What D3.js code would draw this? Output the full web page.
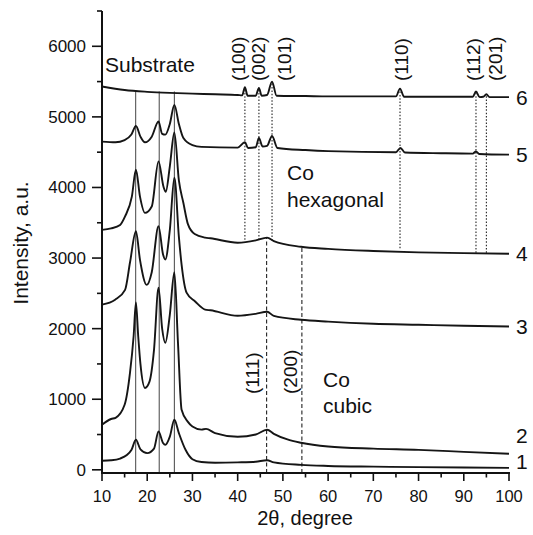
<!DOCTYPE html>
<html>
<head>
<meta charset="utf-8">
<script src="https://cdn.jsdelivr.net/npm/d3@7"></script>
<style>
  body { margin: 0; background: #fff; }
  svg text { font-family: "Liberation Sans", Arial, Helvetica, sans-serif; fill: #111; }
</style>
</head>
<body>
<svg id="chart" width="533" height="535"></svg>
<script>
// XRD patterns, [2theta, intensity]
var curve1 = [[10,128],[12,135],[14,160],[15.5,210],[16.5,280],[17.5,425],[18.5,290],[20,236],[21.5,300],[22.5,543],[23.5,380],[24,354],[25,470],[26,709],[27,520],[28.5,280],[30,150],[32,110],[35,100],[40,105],[44,115],[46.5,135],[48,105],[54,70],[60,55],[70,45],[80,38],[90,32],[100,28]];
var curve2 = [[10,638],[12,720],[13,737],[15,921],[16.2,1380],[17,1900],[17.5,2370],[18,1900],[18.5,1500],[19.5,1160],[20.5,1250],[21.5,1700],[22.5,2580],[23.3,2000],[24,1800],[25,2200],[26,2800],[26.8,1800],[27.6,850],[29,680],[30,614],[32,570],[33,580],[35,520],[40,468],[44,500],[46.5,567],[48,510],[51,430],[54,383],[60,330],[70,300],[80,283],[90,255],[100,227]];
var curve3 = [[10,2340],[12.9,2410],[15.1,2550],[16.2,2940],[17.5,3380],[18.4,2975],[19.9,2620],[21,2800],[22.5,3450],[23.5,3050],[24,2980],[25,3400],[26,4140],[27,3300],[27.6,2906],[28.7,2510],[30.6,2385],[32.8,2270],[34,2260],[40,2183],[44,2210],[46.5,2240],[48,2180],[54,2126],[60,2100],[70,2070],[80,2055],[90,2040],[100,2030]];
var curve4 = [[10,3400],[12,3420],[14,3470],[15.1,3590],[16.6,3870],[17.5,4250],[18.4,3870],[19.5,3640],[21,3730],[22.5,4370],[23.6,4010],[24.1,3940],[25,4300],[26,4780],[27,4100],[28,3780],[29,3480],[30.5,3340],[32.8,3290],[34,3280],[40,3217],[44,3250],[46.5,3290],[48,3240],[54,3160],[60,3130],[70,3100],[80,3080],[90,3070],[100,3060]];
var curve5 = [[10,4650],[13,4640],[15,4670],[16.5,4750],[17.5,4870],[18.5,4720],[19.5,4640],[21,4720],[22.5,4935],[23.3,4760],[24,4748],[25,4900],[26,5170],[27,4900],[28,4700],[30,4600],[32,4575],[40,4565],[41.6,4640],[42.3,4560],[44,4570],[44.7,4700],[45.5,4580],[46.5,4590],[47.6,4730],[48.8,4560],[55,4530],[60,4515],[75,4500],[76,4560],[77,4495],[85,4485],[92,4480],[92.7,4510],[93.4,4475],[100,4465]];
var curve6 = [[10,5430],[15,5380],[20,5355],[25,5340],[30,5330],[35,5320],[40,5310],[41,5305],[41.6,5420],[42.2,5300],[44,5300],[44.7,5410],[45.3,5300],[46.5,5310],[47.6,5500],[48.6,5300],[55,5295],[60,5290],[70,5290],[75,5290],[75.9,5400],[76.8,5285],[85,5285],[92,5285],[92.7,5360],[93.5,5280],[94.3,5285],[95,5320],[95.7,5280],[100,5280]];
var curves = [curve1, curve2, curve3, curve4, curve5, curve6];
var curveNames = ["1", "2", "3", "4", "5", "6"];

var substratePeaks = [17.45, 22.65, 26.0];
var cubicPeaks = [46.4, 54.2];
var cubicLabels = ["(111)", "(200)"];
var hexPeaks = [41.6, 44.7, 47.6, 75.9, 92.7, 95.0];
var hexLabels = ["(100)", "(002)", "(101)", "(110)", "(112)", "(201)"];

var xTicks = [10, 20, 30, 40, 50, 60, 70, 80, 90, 100];
var yTicks = [0, 1000, 2000, 3000, 4000, 5000, 6000];

var svg = d3.select("#chart");
var x = d3.scaleLinear().domain([10, 100]).range([102, 509]);
var y = d3.scaleLinear().domain([-45, 6500]).range([473, 11]);

// reference lines first so the curves sit on top
var g = svg.append("g");
substratePeaks.forEach(function(p) {
  g.append("line").attr("x1", x(p)).attr("x2", x(p))
    .attr("y1", y(-45)).attr("y2", y(5360))
    .attr("stroke", "#444").attr("stroke-width", 1);
});
var cubicTop = [3290, 3165];
cubicPeaks.forEach(function(p, i) {
  g.append("line").attr("x1", x(p)).attr("x2", x(p))
    .attr("y1", y(-45)).attr("y2", y(cubicTop[i]))
    .attr("stroke", "#222").attr("stroke-width", 1.1)
    .attr("stroke-dasharray", "4,2.5");
});
var hexBottom = [3260, 3260, 3250, 3140, 3075, 3075];
var hexTop = [5420, 5410, 5480, 5395, 5355, 5320];
hexPeaks.forEach(function(p, i) {
  g.append("line").attr("x1", x(p)).attr("x2", x(p))
    .attr("y1", y(hexBottom[i])).attr("y2", y(hexTop[i]))
    .attr("stroke", "#222").attr("stroke-width", 1.1)
    .attr("stroke-dasharray", "1.5,1.8");
});

// patterns
var line = d3.line()
  .x(function(d) { return x(d[0]); })
  .y(function(d) { return y(d[1]); })
  .curve(d3.curveMonotoneX);
curves.forEach(function(c) {
  svg.append("path").datum(c)
    .attr("d", line)
    .attr("fill", "none")
    .attr("stroke", "#151515")
    .attr("stroke-width", 1.9)
    .attr("stroke-linejoin", "round");
});

// axes
var xAxis = svg.append("g").attr("transform", "translate(0," + y(-45) + ")");
xAxis.append("line").attr("x1", x(10) - 1).attr("x2", x(100) + 1)
  .attr("stroke", "#111").attr("stroke-width", 2);
d3.range(10, 101, 5).forEach(function(v) {
  var major = v % 10 === 0;
  xAxis.append("line").attr("x1", x(v)).attr("x2", x(v))
    .attr("y1", 0).attr("y2", major ? 8 : 4.5)
    .attr("stroke", "#111").attr("stroke-width", 1.6);
});
xAxis.selectAll("text.tick").data(xTicks).enter().append("text")
  .attr("x", function(d) { return x(d); })
  .attr("y", 29)
  .attr("text-anchor", "middle")
  .attr("font-size", 16.5)
  .text(function(d) { return d; });

var yAxis = svg.append("g").attr("transform", "translate(" + x(10) + ",0)");
yAxis.append("line").attr("y1", y(6500)).attr("y2", y(-45) + 1)
  .attr("stroke", "#111").attr("stroke-width", 2);
d3.range(0, 6501, 500).forEach(function(v) {
  var major = v % 1000 === 0;
  yAxis.append("line").attr("x1", 0).attr("x2", major ? -10 : -5)
    .attr("y1", y(v)).attr("y2", y(v))
    .attr("stroke", "#111").attr("stroke-width", 1.6);
});
yAxis.selectAll("text.tick").data(yTicks).enter().append("text")
  .attr("x", -16)
  .attr("y", function(d) { return y(d); })
  .attr("dy", "0.35em")
  .attr("text-anchor", "end")
  .attr("font-size", 17)
  .text(function(d) { return d; });

svg.append("text").attr("x", 305).attr("y", 525)
  .attr("text-anchor", "middle").attr("font-size", 20)
  .text("2\u03b8, degree");
svg.append("text")
  .attr("transform", "translate(28,243) rotate(-90)")
  .attr("text-anchor", "middle").attr("font-size", 21)
  .text("Intensity, a.u.");

// annotations
var hexLabelX = [40.1, 44.65, 50.25, 76.3, 92.05, 96.9];
hexLabels.forEach(function(t, i) {
  svg.append("text")
    .attr("transform", "translate(" + x(hexLabelX[i]) + ",81) rotate(-90)")
    .attr("dy", "0.35em").attr("font-size", 19)
    .text(t);
});
var cubicLabelX = [43.3, 51.6];
cubicLabels.forEach(function(t, i) {
  svg.append("text")
    .attr("transform", "translate(" + x(cubicLabelX[i]) + ",394) rotate(-90)")
    .attr("dy", "0.35em").attr("font-size", 19)
    .text(t);
});

svg.append("text").attr("x", 105).attr("y", 72).attr("font-size", 21).text("Substrate");
svg.append("text").attr("x", 287).attr("y", 180).attr("font-size", 21).text("Co");
svg.append("text").attr("x", 287).attr("y", 207).attr("font-size", 21).text("hexagonal");
svg.append("text").attr("x", 323).attr("y", 387).attr("font-size", 21).text("Co");
svg.append("text").attr("x", 323).attr("y", 413).attr("font-size", 21).text("cubic");

// curve numbers at the right end
var nameShift = [-6, -18, 0, 0, 0, 0];
curves.forEach(function(c, i) {
  svg.append("text")
    .attr("x", 516)
    .attr("y", y(c[c.length - 1][1]) + nameShift[i])
    .attr("dy", "0.36em")
    .attr("font-size", 21)
    .text(curveNames[i]);
});
</script>
</body>
</html>
